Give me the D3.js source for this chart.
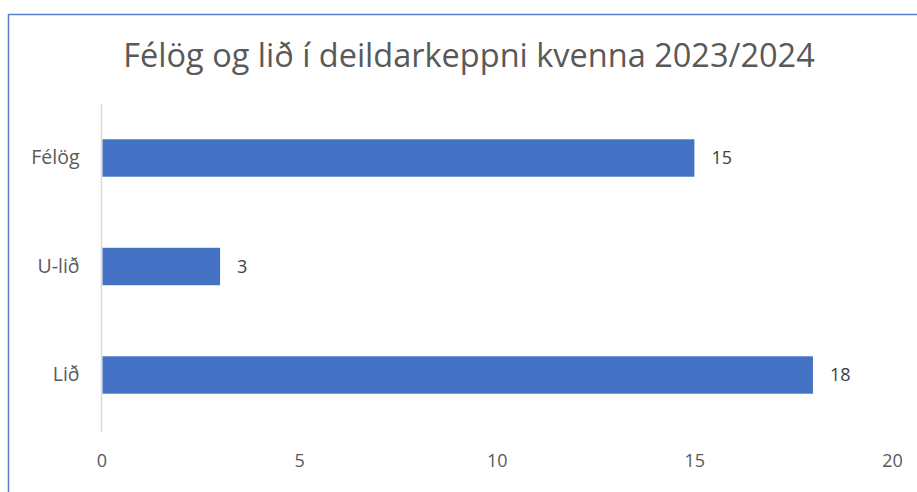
<!DOCTYPE html>
<html>
<head>
<meta charset="utf-8">
<script src="https://cdn.jsdelivr.net/npm/d3@7"></script>
<style>
  body { margin: 0; background: #fff; }
  svg text { font-family: "Open Sans", "Noto Sans", sans-serif; }
</style>
</head>
<body>
<div class="svg-container"></div>
<script>
// chart data
var categories = ["Félög", "U-lið", "Lið"];
var values = [15, 3, 18];
var xTicks = [0, 5, 10, 15, 20];
var title = "Félög og lið í deildarkeppni kvenna 2023/2024";

var width = 917;
var height = 492;

var svg = d3.select(".svg-container").append("svg")
    .attr("width", width)
    .attr("height", height);

// chart frame (only top and left edges fall inside the picture)
svg.append("rect")
    .attr("x", 8.5)
    .attr("y", 14.5)
    .attr("width", 1000)
    .attr("height", 1000)
    .attr("fill", "#fff")
    .attr("stroke", "#5a7fc8")
    .attr("stroke-width", 1.5);

// title
svg.append("text")
    .attr("x", 469)
    .attr("y", 67)
    .attr("text-anchor", "middle")
    .style("font-size", "32.5px")
    .style("fill", "#595959")
    .text(title);

// X
var x = d3.scaleLinear()
    .domain([0, 20])
    .range([101.5, 892]);

// Y
var y = d3.scaleBand()
    .domain(categories)
    .range([103.75, 429.25])
    .paddingInner(0.655)
    .paddingOuter(0.3275);

// x tick labels, no visible ticks or axis line
var xAxis = svg.append("g")
    .attr("transform", "translate(0,432)")
    .call(d3.axisBottom(x).tickValues(xTicks).tickSize(0).tickPadding(22));
xAxis.select(".domain").remove();
xAxis.selectAll("text")
    .style("font-size", "18px")
    .style("fill", "#595959");

// y axis line and labels
var yAxis = svg.append("g")
    .attr("transform", "translate(" + x(0) + ",0)")
    .call(d3.axisLeft(y).tickSize(0).tickPadding(22));
yAxis.select(".domain").remove();
yAxis.selectAll("text")
    .style("font-size", "19.5px")
    .style("fill", "#595959");

svg.append("line")
    .attr("x1", x(0))
    .attr("x2", x(0))
    .attr("y1", y.range()[0])
    .attr("y2", 432)
    .attr("stroke", "#d9d9d9")
    .attr("stroke-width", 1.5);

// bars
svg.selectAll(".bar")
    .data(values)
    .enter().append("rect")
    .attr("class", "bar")
    .attr("x", x(0) + 1)
    .attr("y", function(d, i) { return y(categories[i]); })
    .attr("width", function(d) { return x(d) - x(0) - 1; })
    .attr("height", y.bandwidth())
    .attr("fill", "#4472c4");

// value labels
svg.selectAll(".label")
    .data(values)
    .enter().append("text")
    .attr("class", "label")
    .attr("x", function(d) { return x(d) + 17; })
    .attr("y", function(d, i) { return y(categories[i]) + y.bandwidth() / 2; })
    .attr("dy", "0.35em")
    .style("font-size", "18px")
    .style("fill", "#404040")
    .text(function(d) { return d; });
</script>
</body>
</html>
